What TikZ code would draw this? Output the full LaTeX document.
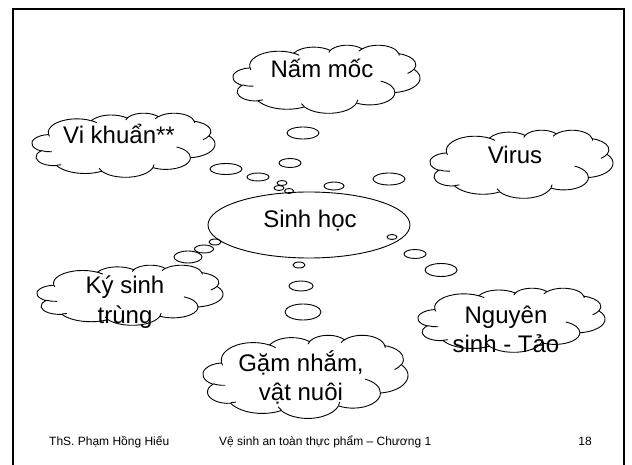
\documentclass[tikz,border=0pt]{standalone}
\usepackage{fontspec}
\setmainfont{Liberation Sans}
\usetikzlibrary{shapes.geometric}

% parametric angle on an ellipse for a visual angle
\pgfmathdeclarefunction{parang}{3}{\pgfmathparse{atan2(sin(#1)/#3, cos(#1)/#2)}}

\tikzset{
  line/.style={line width=0.9pt},
  word/.style={font=\fontsize{24}{29}\selectfont, align=center, anchor=base},
  foot/.style={font=\fontsize{12}{14}\selectfont, inner sep=0pt, anchor=base},
  % cloud outline on a 100x100 box, y pointing down
  pics/puff/.style={code={
    \draw[line, fill=white] (9.028,33.264)
      foreach \rw/\rh/\st/\sw in {15.632/21.273/-190.487/123.781, 12.345/16.822/-144.102/89.945,
        10.104/13.762/-145.808/99.723, 11.243/15.266/-130.986/117.242,
        12.345/16.836/-78.709/109.027, 15.683/21.343/-46.267/130.269,
        13.391/18.211/0.625/114.033, 15.630/21.331/22.452/115.173,
        17.870/24.405/66.243/75.711, 10.093/13.699/-274.942/146.736,
        10.058/13.762/-246.829/152.519}
      { arc[start angle={parang(\st,\rw,\rh)},
            delta angle={mod(parang(\st+\sw,\rw,\rh)-parang(\st,\rw,\rh)+720,360)},
            x radius=\rw, y radius=\rh] } -- cycle;
    % the small inner folds
    \foreach \px/\py/\rw/\rh/\st/\sw in {10.863/60.595/10.058/13.762/86.742/26.430,
        16.037/80.785/10.093/13.699/73.610/11.447, 38.144/90.486/15.630/21.331/137.624/14.081,
        66.729/80.442/15.630/21.331/6.453/15.998, 79.002/53.134/13.391/18.211/-70.292/70.917,
        96.755/35.542/12.345/16.836/30.318/27.752, 88.713/12.560/11.243/15.266/-13.744/14.859,
        67.310/9.148/11.243/15.266/-149.181/18.195, 51.252/10.926/10.104/13.762/-163.494/17.686,
        32.407/12.019/15.632/21.273/-66.707/12.319, 9.553/36.549/15.632/21.273/157.654/11.858}
      \draw[line] (\px,\py) arc[start angle={parang(\st,\rw,\rh)},
            delta angle={mod(parang(\st+\sw,\rw,\rh)-parang(\st,\rw,\rh)+720,360)},
            x radius=\rw, y radius=\rh];
  }},
}

\begin{document}
\begin{tikzpicture}[x=1pt, y=-1pt]
\useasboundingbox (0,0) rectangle (632,465);

% slide frame
\draw[line width=2pt] (13,466) -- (13,9) -- (624,9) -- (624,466);

% centre bubble
\node[ellipse, draw, line, minimum width=202pt, minimum height=66pt] (bio) at (309,225) {};
\node[word] (biot) at (310,228) {Sinh học};

% the six clouds
\pic[xscale=1.87, yscale=0.68] (nam) at (233,45) {puff};
\pic[xscale=1.83, yscale=0.64] (vk) at (32,113) {puff};
\pic[xscale=1.83, yscale=0.68] (vir) at (430,130) {puff};
\pic[xscale=1.86, yscale=0.60] (ks) at (37,265) {puff};
\pic[xscale=1.87, yscale=0.64] (ng) at (418,288) {puff};
\pic[xscale=2.05, yscale=0.83] (gam) at (203,335) {puff};

\node[word] (namt) at (322,78) {Nấm mốc};
\node[word] (vkt) at (119,144) {Vi khuẩn**};
\node[word] (virt) at (515,164) {Virus};
\node[word] (kst) at (125,323) {Ký sinh\\trùng};
\node[word] (ngt) at (506,352) {Nguyên\\sinh - Tảo};
\node[word] (gamt) at (301,400) {Gặm nhắm,\\vật nuôi};

% little thought bubbles
\foreach \x/\y/\a/\b in {303/133/16/6, 290/163/11/4.5, 226/169/16/5.5, 258/177/11/4,
    282/183/5/2.5, 279/188/5/2.5, 289/191/4.5/2.5, 334/186/10/4, 389/179/16/6,
    392/237/5/2.5, 415/254/11/4.5, 441/270/16/6.5,
    299/265/6/3, 301/286/12/5, 303/312/18/8,
    188/257/14/6, 204/249/9.5/4, 215/242/6/3}
  \draw[line] (\x,\y) ellipse [x radius=\a pt, y radius=\b pt];

% footer
\node[foot, anchor=base west] (auth) at (49,445) {ThS. Phạm Hồng Hiếu};
\node[foot, anchor=base west] (ttl) at (219,445) {Vệ sinh an toàn thực phẩm – Chương 1};
\node[foot, anchor=base east] (pg) at (592,445) {18};

\end{tikzpicture}
\end{document}
